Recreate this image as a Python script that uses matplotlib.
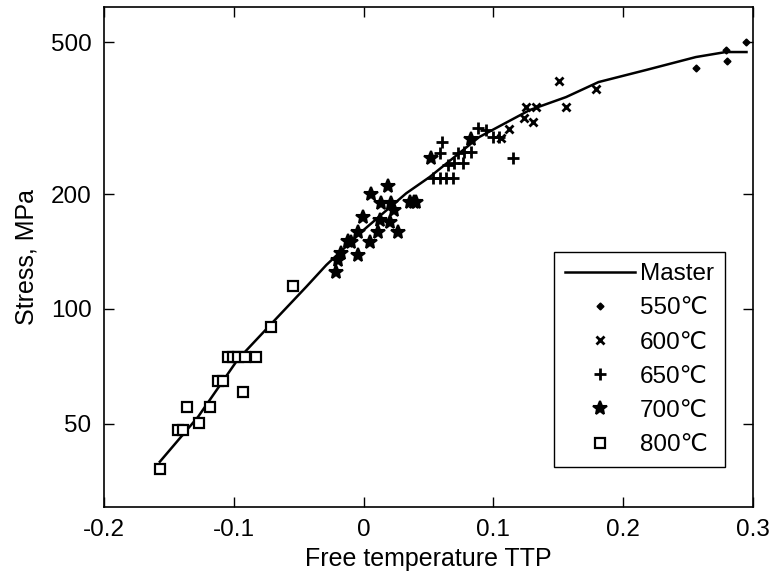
import matplotlib.pyplot as plt
import numpy as np
from matplotlib.ticker import FixedLocator, NullLocator, FixedFormatter

plt.rcParams['font.family'] = ['Liberation Sans', 'DejaVu Sans']

# master curve
master_x = [-0.157, -0.1275, -0.097, -0.0659, -0.0441, -0.0287, 0.0, 0.0328, 0.051,
            0.089, 0.128, 0.156, 0.181, 0.218, 0.256, 0.279, 0.295]
master_y = [39.8, 52.2, 73.7, 95.5, 114.4, 130.4, 161.0, 200.9, 221.8,
            282.0, 332.0, 359.0, 393.0, 423.0, 457.0, 471.0, 471.0]

# 550 C
t550_x = [0.2559, 0.2790, 0.2803, 0.2948]
t550_y = [426.7, 476.4, 446.7, 499.0]

# 600 C
t600_x = [0.1508, 0.1790, 0.1559, 0.1251, 0.1328, 0.1302, 0.1123, 0.1059, 0.1238]
t600_y = [396.0, 378.0, 338.5, 338.5, 338.5, 309.3, 297.0, 280.0, 315.7]

# 650 C
t650_x = [0.0605, 0.0585, 0.0533, 0.0585, 0.0636, 0.0687, 0.0648, 0.0700, 0.0764,
          0.0726, 0.0777, 0.0828, 0.0879, 0.0944, 0.0995, 0.1046, 0.1149]
t650_y = [274.2, 255.6, 219.9, 220.0, 220.0, 220.0, 238.3, 240.7, 240.7,
          255.6, 258.0, 258.0, 297.2, 294.0, 282.6, 282.6, 248.0]

# 700 C
t700_x = [0.0187, 0.0059, 0.0136, 0.0213, 0.0354, 0.0405, 0.0264, -0.0005, 0.0123,
          -0.0044, 0.0110, -0.0095, 0.0046, -0.0044, -0.0172, -0.0198, -0.0210,
          -0.0121, 0.0200, 0.0238, 0.0520, 0.0828, 0.0390]
t700_y = [209.9, 199.7, 189.1, 189.0, 191.0, 191.0, 159.4, 174.5, 171.0,
          159.4, 159.4, 150.0, 150.0, 138.5, 140.0, 134.4, 125.2,
          150.9, 169.3, 181.6, 248.0, 278.0, 191.0]

# 800 C
t800_x = [-0.1570, -0.1433, -0.1395, -0.1364, -0.1267, -0.1185, -0.1121, -0.1087,
          -0.0928, -0.1044, -0.1006, -0.0967, -0.0915, -0.0831, -0.0715, -0.0544]
t800_y = [38.1, 48.2, 48.2, 55.5, 50.2, 55.5, 64.8, 64.8,
          60.6, 74.7, 74.7, 74.7, 74.7, 74.7, 89.9, 114.9]

fig = plt.figure(figsize=(7.75, 5.79), dpi=100)
ax = fig.add_axes([0.1342, 0.1244, 0.8374, 0.8635])

ax.plot(master_x, master_y, color='black', linewidth=1.8, label='Master')
ax.plot(t550_x, t550_y, linestyle='none', marker='D', markersize=3.5,
        color='black', label='550℃')
ax.plot(t600_x, t600_y, linestyle='none', marker='x', markersize=6,
        markeredgewidth=2, color='black', label='600℃')
ax.plot(t650_x, t650_y, linestyle='none', marker='+', markersize=8,
        markeredgewidth=2, color='black', label='650℃')
ax.plot(t700_x, t700_y, linestyle='none', marker='*', markersize=10,
        markeredgewidth=1.5, color='black', label='700℃')
ax.plot(t800_x, t800_y, linestyle='none', marker='s', markersize=7,
        markeredgewidth=1.6, markerfacecolor='white', color='black', label='800℃')

ax.set_yscale('log')
ax.set_xlim(-0.2, 0.3)
ax.set_ylim(30.3, 618)
ax.set_xticks([-0.2, -0.1, 0, 0.1, 0.2, 0.3])
ax.set_xticklabels(['-0.2', '-0.1', '0', '0.1', '0.2', '0.3'])
ax.yaxis.set_major_locator(FixedLocator([50, 100, 200, 500]))
ax.yaxis.set_major_formatter(FixedFormatter(['50', '100', '200', '500']))
ax.yaxis.set_minor_locator(NullLocator())
ax.tick_params(direction='in', length=7, width=1, labelsize=17.5,
               top=True, right=True, pad=9)
for sp in ax.spines.values():
    sp.set_linewidth(1.2)

ax.set_xlabel('Free temperature TTP', fontsize=18, labelpad=4)
ax.set_ylabel('Stress, MPa', fontsize=18, labelpad=9)

leg = ax.legend(loc='lower right', bbox_to_anchor=(0.957, 0.08), borderaxespad=0,
                fontsize=17.5, frameon=True, fancybox=False, edgecolor='black',
                handlelength=2.9, handletextpad=0.2, labelspacing=0.5,
                borderpad=0.45, framealpha=1)
leg.get_frame().set_linewidth(1.0)

fig.savefig('out.png', dpi=100)
